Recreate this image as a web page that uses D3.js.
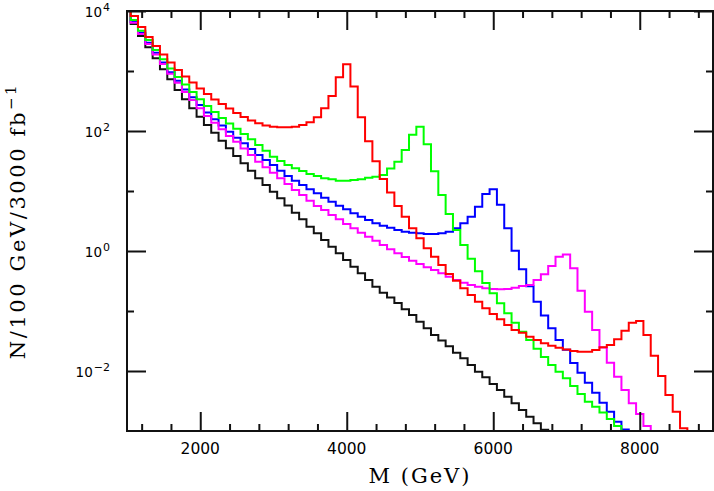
<!DOCTYPE html>
<html><head><meta charset="utf-8">
<script src="https://cdn.jsdelivr.net/npm/d3@7"></script>
<style>body{margin:0;background:#fff}svg{display:block}</style>
</head><body>
<svg id="c" width="714" height="491"></svg>
<script>
// bin centres (GeV), 100 GeV bins
const mass = [1000,1100,1200,1300,1400,1500,1600,1700,1800,1900,2000,2100,2200,2300,2400,2500,2600,2700,2800,2900,3000,3100,3200,3300,3400,3500,3600,3700,3800,3900,4000,4100,4200,4300,4400,4500,4600,4700,4800,4900,5000,5100,5200,5300,5400,5500,5600,5700,5800,5900,6000,6100,6200,6300,6400,6500,6600,6700,6800,6900,7000,7100,7200,7300,7400,7500,7600,7700,7800,7900,8000,8100,8200,8300,8400,8500,8600,8700];

const black = [12000,6070,3830,2480,1630,1070,727,482,338,239,173,126,93.7,68.9,51.5,38.3,28.9,21.7,16.3,12.6,9.73,7.55,5.73,4.35,3.37,2.54,1.97,1.52,1.18,0.916,0.708,0.548,0.425,0.329,0.254,0.202,0.168,0.136,0.107,0.0858,0.0663,0.0515,0.0398,0.0322,0.0258,0.0202,0.0163,0.0126,0.00973,0.00785,0.00607,0.00482,0.00373,0.00290,0.00224,0.00173,0.00134,0.00105,0.0005];

const red = [12000,8260,5410,3690,2610,1880,1390,1040,809,643,511,414,335,282,237,200,171,150,134,124,118,115,115,118,126,140,169,239,383,785,1290,552,169,67.3,31.3,15.8,9.44,5.62,3.73,2.39,1.63,1.11,0.804,0.585,0.414,0.320,0.239,0.185,0.143,0.111,0.0891,0.0727,0.0585,0.0482,0.0435,0.0373,0.0329,0.0290,0.0264,0.0245,0.0228,0.0216,0.0210,0.0210,0.0224,0.0248,0.0271,0.0338,0.0470,0.0638,0.0681,0.0398,0.0180,0.00825,0.00398,0.00210,0.00111,0.0005];

const green = [12000,7080,4700,3290,2240,1570,1100,794,596,447,338,261,207,165,133,109,89.1,72.7,58.4,46.9,37.3,31.6,27.1,23.9,21.5,19.2,17.8,16.3,15.7,14.8,14.8,15.3,15.7,16.7,17.3,18.5,23.7,30.8,48.2,86.8,118,60.3,21.3,8.58,4.14,2.24,1.26,0.744,0.459,0.293,0.198,0.134,0.0916,0.0638,0.0452,0.0329,0.0235,0.0171,0.0126,0.00973,0.00755,0.00562,0.00414,0.00308,0.00254,0.00203,0.00158,0.00121,0.0006];

const blue = [12000,6630,4350,2960,2020,1380,951,689,492,365,271,203,157,124,97.3,77.0,62.4,50.1,39.8,32.9,27.1,21.8,17.8,14.8,12.6,10.7,9.16,7.73,6.63,5.69,4.95,4.25,3.73,3.29,2.90,2.64,2.45,2.24,2.10,2.02,1.97,1.92,1.92,1.97,2.10,2.39,2.90,3.73,5.47,8.91,10.7,5.91,2.39,1.01,0.495,0.258,0.143,0.0841,0.0515,0.0329,0.0226,0.0136,0.00937,0.00638,0.00435,0.00296,0.00210,0.00143,0.00106,0.0005];

const magenta = [12000,6380,4140,2820,1880,1310,902,638,447,329,239,178,137,107,82.6,66.3,51.1,39.8,30.8,24.8,20.2,16.3,13.1,10.4,8.58,6.89,5.62,4.82,3.98,3.37,2.82,2.39,2.02,1.73,1.48,1.26,1.07,0.916,0.794,0.689,0.607,0.535,0.482,0.425,0.373,0.329,0.296,0.271,0.254,0.239,0.233,0.230,0.233,0.245,0.261,0.271,0.329,0.409,0.562,0.804,0.875,0.515,0.218,0.0973,0.0482,0.0246,0.0137,0.00803,0.00482,0.00290,0.00192,0.00121,0.0005];

const seriesList = [
  {name:"background", values: black, color:"#111111"},
  {name:"M=6000", values: blue, color:"#0000ff"},
  {name:"M=7000", values: magenta, color:"#ff00ff"},
  {name:"M=5000", values: green, color:"#00ff00"},
  {name:"M=4000", values: red, color:"#ff0000"}
];

const xMajorTicks = [2000,4000,6000,8000];
const xMinorTicks = [1200,1600,2400,2800,3200,3600,4400,4800,5200,5600,6400,6800,7200,7600,8400,8800];
const yMajorTicks = [1e-2,1e0,1e2,1e4];
const yMajorExp = ["\u22122","0","2","4"];
const yMinorTicks = [1e-1,1e1,1e3];
const xTitle = "M (GeV)";
const yTitleMain = "N/100 GeV/3000 fb";
const yTitleSup = "\u22121";

const L = 127, R = 713, T = 11, B = 431;
const svg = d3.select("#c");
const x = d3.scaleLinear().domain([1000,9000]).range([L,R]);
const y = d3.scaleLog().domain([1e-3,1e4]).range([B,T]);

svg.append("defs").append("clipPath").attr("id","clip")
  .append("rect").attr("x",L).attr("y",T).attr("width",R-L).attr("height",B-T);

const g = svg.append("g").attr("clip-path","url(#clip)");
const line = d3.line().curve(d3.curveStep)
  .x((d,i)=>x(mass[i])).y(d=>y(d));
seriesList.forEach(s=>{
  g.append("path").datum(s.values).attr("d",line)
    .attr("fill","none").attr("stroke",s.color).attr("stroke-width",2)
    .attr("stroke-linejoin","miter");
});

function styleAxis(sel){
  sel.select(".domain").remove();
  sel.selectAll("line").attr("stroke","#111").attr("stroke-width",2);
  sel.selectAll("text").remove();
}
svg.append("g").attr("transform",`translate(0,${B})`).call(d3.axisBottom(x).tickValues(xMajorTicks).tickSize(-19).tickFormat("")).call(styleAxis);
svg.append("g").attr("transform",`translate(0,${B})`).call(d3.axisBottom(x).tickValues(xMinorTicks).tickSize(-7).tickFormat("")).call(styleAxis);
svg.append("g").attr("transform",`translate(0,${T})`).call(d3.axisTop(x).tickValues(xMajorTicks).tickSize(-19).tickFormat("")).call(styleAxis);
svg.append("g").attr("transform",`translate(0,${T})`).call(d3.axisTop(x).tickValues(xMinorTicks).tickSize(-7).tickFormat("")).call(styleAxis);
svg.append("g").attr("transform",`translate(${L},0)`).call(d3.axisLeft(y).tickValues(yMajorTicks).tickSize(-19).tickFormat("")).call(styleAxis);
svg.append("g").attr("transform",`translate(${L},0)`).call(d3.axisLeft(y).tickValues(yMinorTicks).tickSize(-7).tickFormat("")).call(styleAxis);
svg.append("g").attr("transform",`translate(${R},0)`).call(d3.axisRight(y).tickValues(yMajorTicks).tickSize(-19).tickFormat("")).call(styleAxis);
svg.append("g").attr("transform",`translate(${R},0)`).call(d3.axisRight(y).tickValues(yMinorTicks).tickSize(-7).tickFormat("")).call(styleAxis);

svg.append("rect").attr("x",L).attr("y",T).attr("width",R-L).attr("height",B-T)
  .attr("fill","none").attr("stroke","#111").attr("stroke-width",2);

// x tick labels
svg.selectAll(".xl").data(xMajorTicks).enter().append("text")
  .attr("x",d=>x(d)).attr("y",454).attr("text-anchor","middle")
  .attr("font-family","DejaVu Sans").attr("font-size",15.5).attr("fill","#000")
  .text(d=>d);

// y tick labels
yMajorTicks.forEach((v,i)=>{
  const t = svg.append("text").attr("x",110).attr("y",y(v)+5.5).attr("text-anchor","end")
    .attr("font-family","DejaVu Sans").attr("font-size",13.5).attr("fill","#000");
  t.append("tspan").text("10");
  t.append("tspan").attr("dy",-6).attr("dx",1).attr("font-size",11).text(yMajorExp[i]);
});

// axis titles
svg.append("text").attr("x",(L+R)/2).attr("y",483).attr("text-anchor","middle")
  .attr("font-family","DejaVu Serif").attr("font-size",21).attr("letter-spacing",2)
  .attr("fill","#000").text(xTitle);

const yt = svg.append("text").attr("transform",`translate(25,${(T+B)/2}) rotate(-90)`)
  .attr("text-anchor","middle").attr("font-family","DejaVu Serif").attr("font-size",21)
  .attr("letter-spacing",2.6).attr("fill","#000");
yt.append("tspan").text(yTitleMain);
yt.append("tspan").attr("dy",-9).attr("font-size",15).text(yTitleSup);
</script>
</body></html>
